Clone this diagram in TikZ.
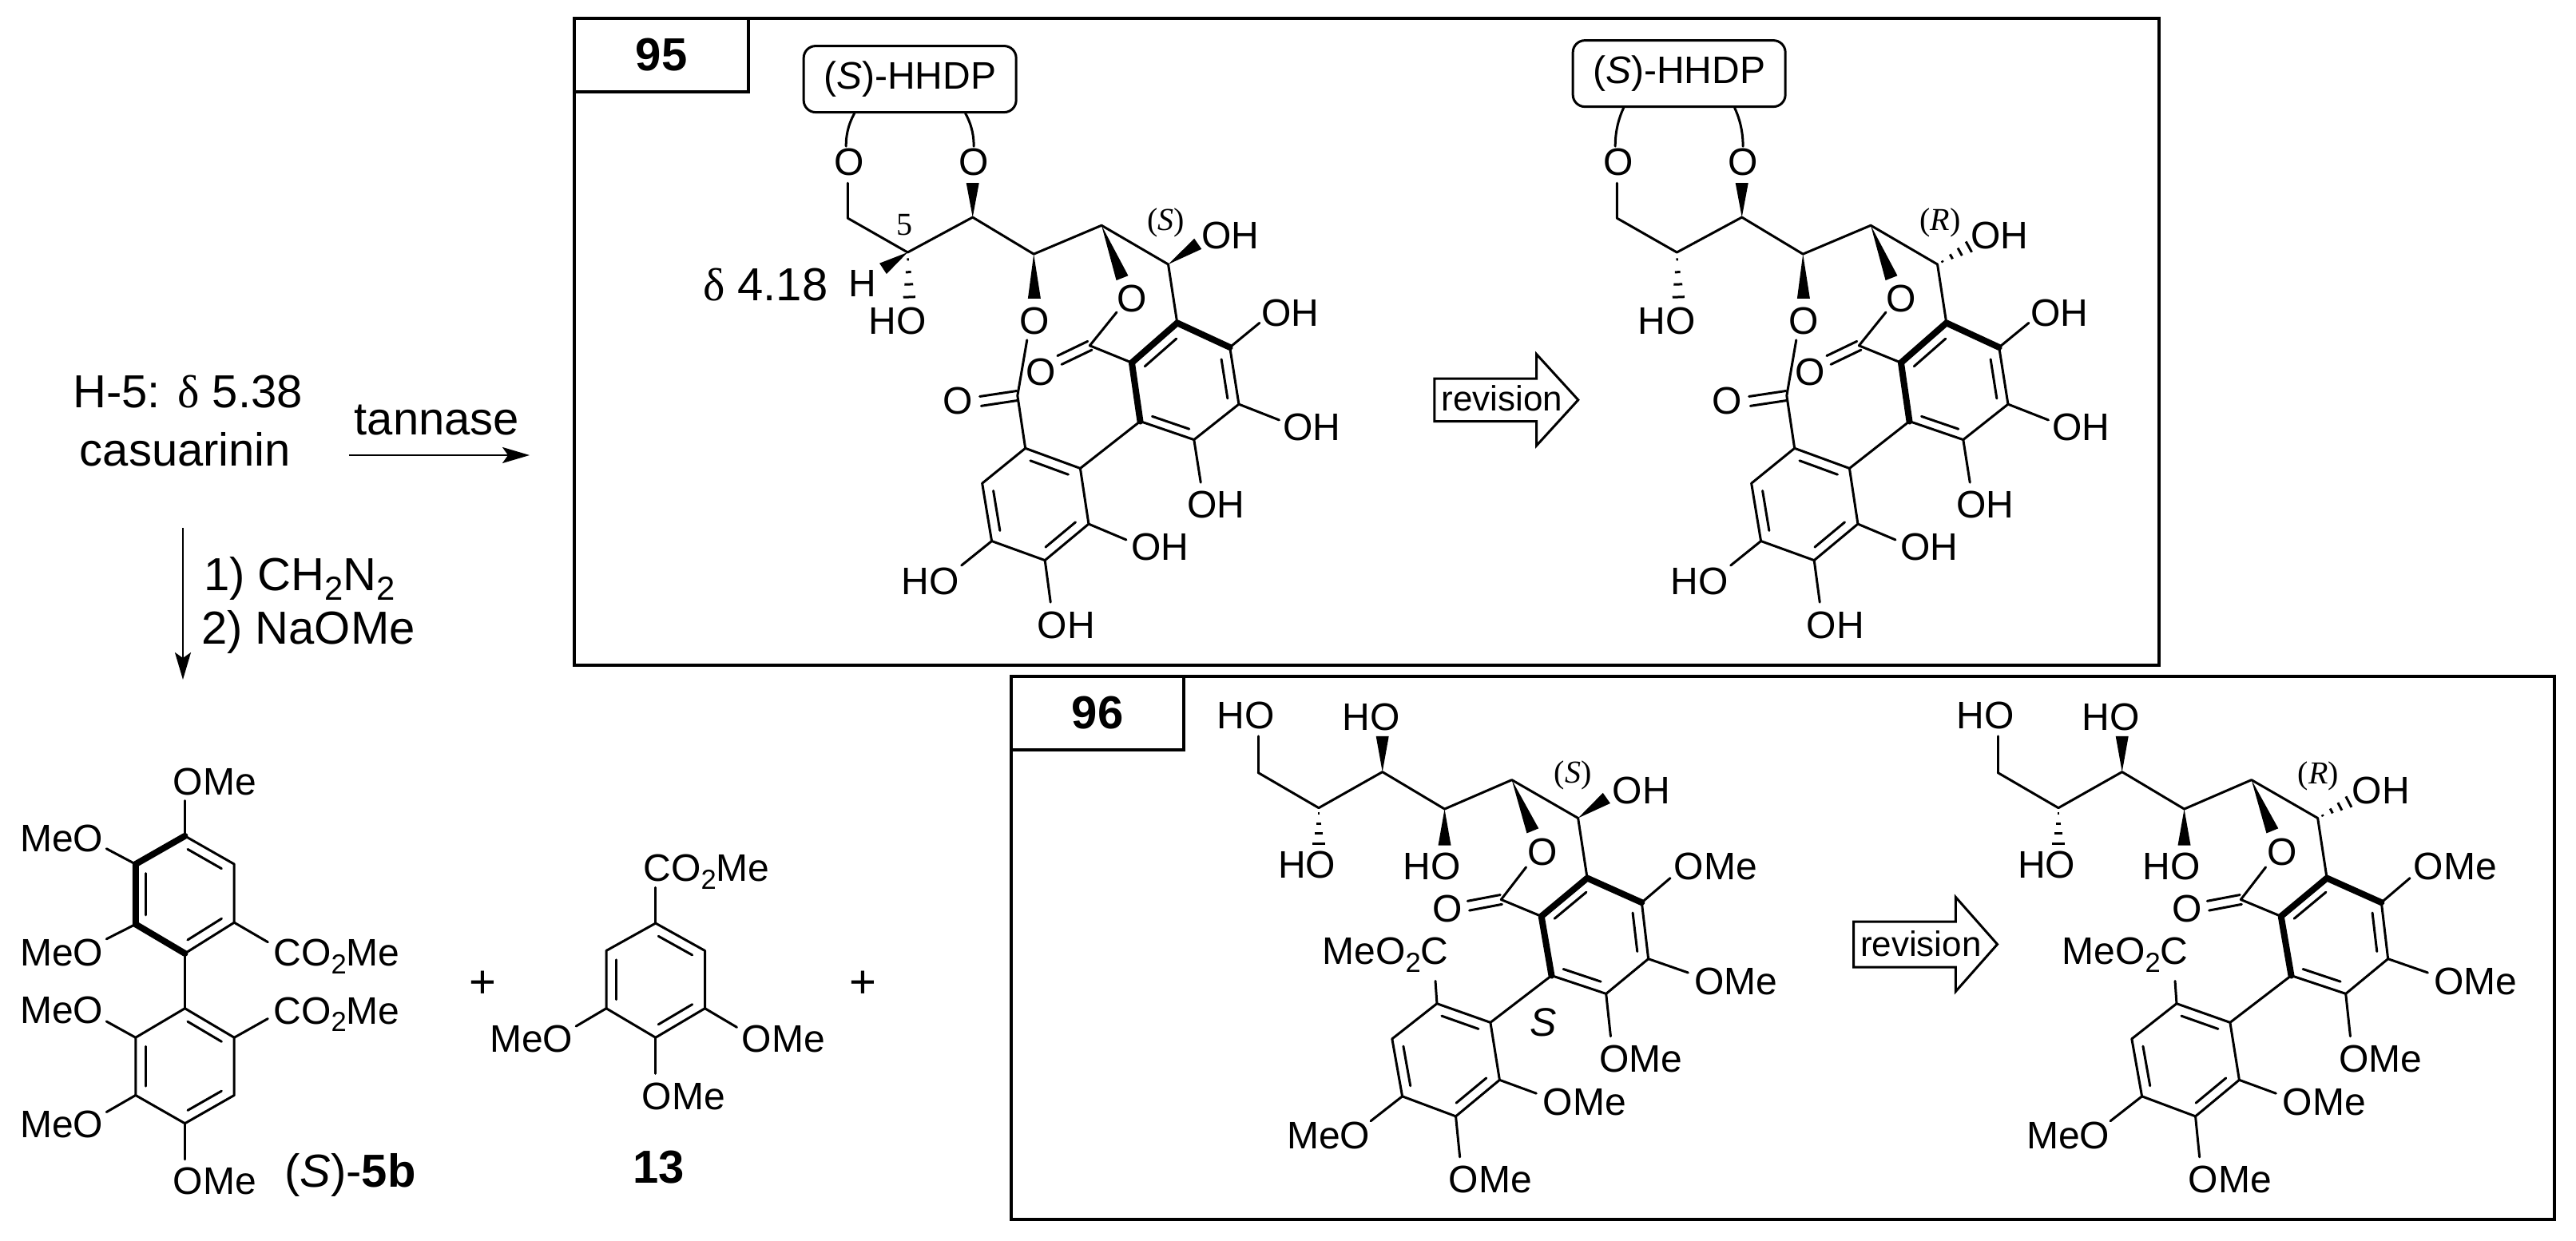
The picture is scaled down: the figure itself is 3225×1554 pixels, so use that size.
\documentclass[tikz,border=0pt]{standalone}
\usepackage{fontspec}
\setmainfont{Liberation Sans}
\newfontfamily\serfam{Liberation Serif}
\usetikzlibrary{calc,arrows.meta}
\newcommand\cFs[1]{\fontsize{#1}{#1}\selectfont}
\newcommand\cSb[1]{\raisebox{-0.2em}{\scalebox{0.72}{#1}}}
\tikzset{
  bond/.style={line width=3pt,line cap=round,line join=round},
  boldbond/.style={line width=8pt,line cap=round,line join=round},
  frame/.style={draw,line width=3.6pt,inner sep=0pt},
  lab/.style={font=\cFs{48},inner sep=0pt,text height=34.5pt,text depth=0pt},
  big/.style={font=\cFs{58},inner sep=0pt,text height=41.5pt,text depth=0pt},
  bigb/.style={font=\cFs{58}\bfseries,inner sep=0pt,text height=41.5pt,text depth=0pt},
  ser/.style={font=\serfam\cFs{40},inner sep=0pt},
  rxn/.style={line width=2.2pt,-{Stealth[length=34pt,width=20pt,inset=7pt]}},
  revarrow/.style={draw,line width=3pt,line join=miter,fill=white}
}
% substituent: from atom, free end, label name, label position, text
\newcommand\cSub[5]{\coordinate (#3e) at (#2); \node[lab] (#3) at (#4) {#5}; \draw[bond] (#1) -- (#3e);}
% inner line of a double bond
\newcommand\cIn[3]{\draw[bond,shorten >=4pt,shorten <=4pt] ($(#1)!.2!(#3)$) -- ($(#2)!.2!(#3)$);}
\newcommand\cWedge[3]{\fill (#1) -- ($(#2)!#3!90:(#1)$) -- ($(#2)!#3!-90:(#1)$) -- cycle;}
\newcommand\cHash[3]{\foreach \f in {.15,.42,.68,.95}{\draw[line width=3pt] ($(#1)!\f!(#2)!{\f*#3}!90:(#2)$) -- ($(#1)!\f!(#2)!{\f*#3}!-90:(#2)$);}}
\newcommand\cCO[3]{\draw[bond] ($(#1)!#3!90:(#2)$) -- ($(#2)!#3!-90:(#1)$) ($(#1)!#3!-90:(#2)$) -- ($(#2)!#3!90:(#1)$);}
% compound 95 skeleton: shift x, box dy, prefix, stereo code
\newcommand\mHHDP[4]{%
\begin{scope}[shift={(#1,0)},x=0.7015pt,y=-0.5356pt,name prefix=#3-]
 \foreach \n/\x/\y in {ch/515/510,c5/622/590,c4/738/508,c3/847/594,c2/968/527,c1/1087/618,
   a1/1103/755,a2/1197/812,a3/1213/945,a4/1133/1028,a5/1037/985,a6/1022/848,actr/1117/915,
   b1/832/1048,b2/930/1095,b3/945/1225,b4/867/1310,b5/772/1265,b6/755/1130,bctr/850/1180,
   es1/947/808,es1o/893/842,es1r/995/730,es2/818/925,es2o/752/938,es2r/835/795,
   w4/738/428,w3/848/698,w2/1005/650,h5/625/700,
   ch1e/515/428,arc1s/512/342,arc2s/740/342}
   \coordinate (\n) at (\x,\y);
 \coordinate (bl) at (527,{265+#2});
 \coordinate (br) at (725,{265+#2});
 \node[draw,line width=3pt,rounded corners=15pt,minimum width=266pt,minimum height=83pt,inner sep=0pt,font=\cFs{48}] (box) at (626,{185+#2}) {(\textit{S})-HHDP};
 \node[lab] (o1) at (517,378) {O};
 \node[lab] (o2) at (740,378) {O};
 \node[lab] (o3) at (849,750) {O};
 \node[lab] (o4) at (1022,697) {O};
 \node[lab] (o5) at (860,868) {O};
 \node[lab] (o6) at (712,935) {O};
 \node[lab] (ho5) at (604,750) {HO};
 \node[lab] (oh1) at (1198,550) {OH};
 \draw[bond] (bl) .. controls ($(bl)!.4!(arc1s)+(-7,0)$) and ($(arc1s)+(0,-20)$) .. (arc1s);
 \draw[bond] (br) .. controls ($(br)!.4!(arc2s)+(7,0)$) and ($(arc2s)+(0,-20)$) .. (arc2s);
 \draw[bond] (ch1e) -- (ch) -- (c5) -- (c4) -- (c3) -- (c2) -- (c1) -- (a1);
 \cWedge{c4}{w4}{8pt}
 \cWedge{c3}{w3}{8pt}
 \cWedge{c2}{w2}{8pt}
 \cHash{c5}{h5}{8pt}
 \draw[boldbond] (a6) -- (a1) -- (a2) (a5) -- (a6);
 \draw[bond] (a2) -- (a3) -- (a4) -- (a5);
 \cIn{a6}{a1}{actr}\cIn{a2}{a3}{actr}\cIn{a4}{a5}{actr}
 \draw[bond] (b1) -- (b2) -- (b3) -- (b4) -- (b5) -- (b6) -- cycle;
 \cIn{b1}{b2}{bctr}\cIn{b3}{b4}{bctr}\cIn{b5}{b6}{bctr}
 \draw[bond] (a5) -- (b2);
 \draw[bond] (a6) -- (es1) -- (es1r) (es2r) -- (es2) -- (b1);
 \cCO{es1}{es1o}{6pt}
 \cCO{es2}{es2o}{6pt}
 \cSub{a2}{1250,755}{s1}{1305,730}{OH}
 \cSub{a3}{1285,982}{s2}{1343,998}{OH}
 \cSub{a4}{1145,1128}{s3}{1172,1178}{OH}
 \cSub{b3}{1012,1262}{s4}{1072,1277}{OH}
 \cSub{b5}{718,1322}{s5}{662,1357}{HO}
 \cSub{b4}{877,1408}{s6}{905,1460}{OH}
 #4
\end{scope}}
% compound 96 skeleton: shift x, prefix, stereo code
\newcommand\mDiol[3]{%
\begin{scope}[shift={(#1,840)},x=0.6378pt,y=-0.4554pt,name prefix=#2-]
 \foreach \n/\x/\y in {d1/494/280,d2/613/377,d3/738/278,d4/860/380,d5/992/300,d6/1122/405,
   e1/1140/570,e2/1247/637,e3/1260/792,e4/1177/888,e5/1070/838,e6/1050/675,ectr/1155/735,
   f1/845/915,f2/950/967,f3/968/1125,f4/882/1225,f5/777/1170,f6/757/1012,fctr/862/1070,
   es/971/629,eso/907/646,esr/1020/540,h2/613/480,w3/738/180,w4/860/480,w5/1033/440}
   \coordinate (\n) at (\x,\y);
 \node[lab] (ho2) at (590,533) {HO};
 \node[lab] (ho3) at (716,125) {HO};
 \node[lab] (ho4) at (835,537) {HO};
 \node[lab] (o5) at (1052,497) {O};
 \node[lab] (oh6) at (1246,327) {OH};
 \node[lab] (oc) at (866,652) {O};
 \cSub{d1}{494,180}{s0}{470,122}{HO}
 \draw[bond] (d1) -- (d2) -- (d3) -- (d4) -- (d5) -- (d6) -- (e1);
 \cHash{d2}{h2}{8pt}
 \cWedge{d3}{w3}{8pt}
 \cWedge{d4}{w4}{8pt}
 \cWedge{d5}{w5}{8pt}
 \draw[boldbond] (e6) -- (e1) -- (e2) (e5) -- (e6);
 \draw[bond] (e2) -- (e3) -- (e4) -- (e5);
 \cIn{e6}{e1}{ectr}\cIn{e2}{e3}{ectr}\cIn{e4}{e5}{ectr}
 \draw[bond] (f1) -- (f2) -- (f3) -- (f4) -- (f5) -- (f6) -- cycle;
 \cIn{f1}{f2}{fctr}\cIn{f3}{f4}{fctr}\cIn{f5}{f6}{fctr}
 \draw[bond] (e5) -- (f2);
 \draw[bond] (e6) -- (es) -- (esr);
 \cCO{es}{eso}{6pt}
 \cSub{e2}{1303,570}{s1}{1392,537}{OMe}
 \cSub{e3}{1338,830}{s2}{1432,853}{OMe}
 \cSub{e4}{1186,1005}{s3}{1245,1065}{OMe}
 \cSub{f3}{1040,1162}{s4}{1135,1183}{OMe}
 \cSub{f5}{715,1238}{s5}{632,1277}{MeO}
 \cSub{f4}{890,1337}{s6}{950,1397}{OMe}
 \cSub{f1}{842,853}{s7}{744,770}{MeO\cSb{2}C}
 #3
\end{scope}}
\begin{document}
\begin{tikzpicture}[x=1pt,y=-1pt]
\useasboundingbox (0,0) rectangle (3225,1554);
% frames
\node[frame,minimum width=1984pt,minimum height=810pt] (f95) at (1711,428) {};
\node[frame,minimum width=218pt,minimum height=92pt,font=\cFs{58}\bfseries] (t95) at (828,69) {95};
\node[frame,minimum width=1932pt,minimum height=680pt] (f96) at (2232,1187) {};
\node[frame,minimum width=216pt,minimum height=92pt,font=\cFs{58}\bfseries] (t96) at (1374,893) {96};
% left texts and arrows
\node[big] (h5) at (235,490) {H-5: {\serfam δ} 5.38};
\node[big] (cas) at (232,563) {casuarinin};
\node[big] (tan) at (547,524) {tannase};
\coordinate (ta) at (437,570);
\coordinate (tb) at (663,570);
\draw[rxn] (ta) -- (tb);
\coordinate (da) at (229,661);
\coordinate (db) at (229,851);
\draw[rxn] (da) -- (db);
\node[big,anchor=west] (r1) at (255,719) {1) CH\cSb{2}N\cSb{2}};
\node[big,anchor=west] (r2) at (252,786) {2) NaOMe};
% compound 95, both forms
\mHHDP{700}{0}{pa}{%
 \coordinate (hw) at (578,628);
 \coordinate (ow) at (1140,570);
 \cWedge{c5}{hw}{8pt}
 \cWedge{c1}{ow}{8pt}
 \node[lab] (hl) at (541,662) {H};
 \node[big] (dl) at (368,665) {{\serfam δ} 4.18};
 \node[ser] (five) at (617,525) {5};
 \node[ser] (cfg) at (1083,520) {(\textit{S})};
}
\mHHDP{1663}{-13}{pb}{%
 \coordinate (oh) at (1146,575);
 \cHash{c1}{oh}{8pt}
 \node[ser] (cfg) at (1092,520) {(\textit{R})};
}
% revision arrows
\begin{scope}[shift={(1780,0)},x=0.6378pt,y=-0.5356pt]
 \draw[revarrow] (25,885) -- (225,885) -- (225,828) -- (307,935) -- (225,1042) -- (225,985) -- (25,985) -- cycle;
 \node[font=\cFs{44},inner sep=0pt] (rev1) at (157,932) {revision};
\end{scope}
\begin{scope}[shift={(2225,840)},x=0.6378pt,y=-0.4554pt]
 \draw[revarrow] (150,690) -- (350,690) -- (350,622) -- (432,752) -- (350,882) -- (350,815) -- (150,815) -- cycle;
 \node[font=\cFs{44},inner sep=0pt] (rev2) at (282,750) {revision};
\end{scope}
% compound 96, both forms
\mDiol{1260}{qa}{%
 \coordinate (ow) at (1178,350);
 \cWedge{d6}{ow}{8pt}
 \node[ser] (cfg) at (1112,287) {(\textit{S})};
 \node[lab,font=\cFs{50}\itshape] (sl) at (1054,967) {S};
}
\mDiol{2186}{qb}{%
 \coordinate (oh) at (1186,358);
 \cHash{d6}{oh}{8pt}
 \node[ser] (cfg) at (1123,290) {(\textit{R})};
}
% bottom-left compounds
\begin{scope}[shift={(0,880)},x=0.7015pt,y=-0.43pt]
 \foreach \n/\x/\y in {a1/330/388,a2/418/470,a3/418/640,a4/330/730,a5/242/645,a6/242/470,actr/330/558,
   b1/330/890,b2/418/975,b3/418/1143,b4/330/1225,b5/242/1143,b6/242/975,bctr/330/1058,
   c1/1170/642,c2/1258/722,c3/1258/890,c4/1170/975,c5/1082/890,c6/1082/722,cctr/1170/808}
   \coordinate (\n) at (\x,\y);
 \draw[boldbond] (a6) -- (a1) (a6) -- (a5) -- (a4);
 \draw[bond] (a1) -- (a2) -- (a3) -- (a4);
 \cIn{a1}{a2}{actr}\cIn{a3}{a4}{actr}\cIn{a5}{a6}{actr}
 \draw[bond] (a4) -- (b1);
 \draw[bond] (b1) -- (b2) -- (b3) -- (b4) -- (b5) -- (b6) -- cycle;
 \cIn{b1}{b2}{bctr}\cIn{b3}{b4}{bctr}\cIn{b5}{b6}{bctr}
 \cSub{a1}{330,285}{s1}{383,228}{OMe}
 \cSub{a6}{190,425}{s2}{110,393}{MeO}
 \cSub{a5}{190,688}{s3}{110,726}{MeO}
 \coordinate (s4a) at (488,727);
 \node[lab,anchor=west] (s4) at (s4a) {CO\cSb{2}Me};
 \coordinate (s4e) at (478,697);
 \draw[bond] (a3) -- (s4e);
 \coordinate (s5a) at (488,895);
 \node[lab,anchor=west] (s5) at (s5a) {CO\cSb{2}Me};
 \coordinate (s5e) at (478,920);
 \draw[bond] (b2) -- (s5e);
 \cSub{b6}{190,928}{s6}{110,893}{MeO}
 \cSub{b5}{190,1192}{s7}{110,1226}{MeO}
 \cSub{b4}{330,1330}{s8}{383,1392}{OMe}
 \node[big] (lb5) at (625,1362) {(\textit{S})-\textbf{5b}};
 \node[big] (p1) at (862,812) {+};
 \node[big] (p2) at (1540,812) {+};
 \draw[bond] (c1) -- (c2) -- (c3) -- (c4) -- (c5) -- (c6) -- cycle;
 \cIn{c1}{c2}{cctr}\cIn{c3}{c4}{cctr}\cIn{c5}{c6}{cctr}
 \coordinate (t1e) at (1170,538);
 \node[lab,anchor=west] (t1) at (1148,480) {CO\cSb{2}Me};
 \draw[bond] (c1) -- (t1e);
 \cSub{c3}{1315,945}{t2}{1398,978}{OMe}
 \cSub{c5}{1028,942}{t3}{948,978}{MeO}
 \cSub{c4}{1170,1080}{t4}{1220,1145}{OMe}
 \node[bigb] (l13) at (1176,1350) {13};
\end{scope}
\end{tikzpicture}
\end{document}
